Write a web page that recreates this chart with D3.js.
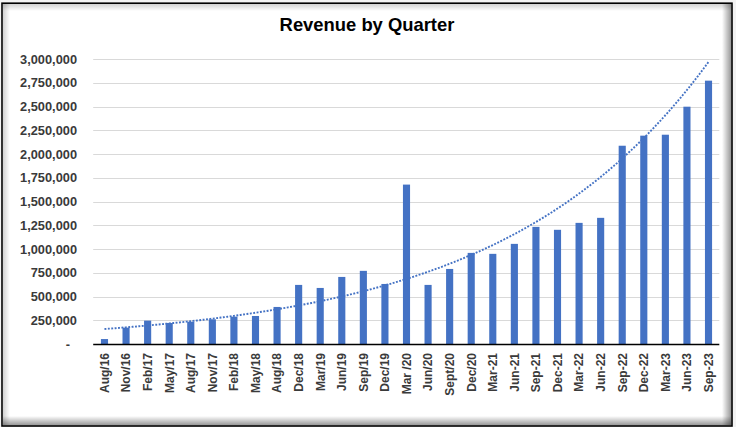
<!DOCTYPE html>
<html><head><meta charset="utf-8">
<script src="https://cdn.jsdelivr.net/npm/d3@7"></script>
<style>body{margin:0;background:#f3f3f3}svg{display:block}</style>
</head><body>
<svg id="c" width="736" height="427"></svg>
<script>
const chartTitle = "Revenue by Quarter";
const categories = ["Aug/16","Nov/16","Feb/17","May/17","Aug/17","Nov/17","Feb/18","May/18","Aug/18","Dec/18","Mar/19","Jun/19","Sep/19","Dec/19","Mar /20","Jun/20","Sept/20","Dec/20","Mar-21","Jun-21","Sep-21","Dec-21","Mar-22","Jun-22","Sep-22","Dec-22","Mar-23","Jun-23","Sep-23"];
const revenue = [52000,172000,246000,221000,235000,260000,288000,295000,390000,622000,590000,706000,770000,632000,1678000,622000,790000,959000,949000,1054000,1233000,1202000,1275000,1328000,2087000,2193000,2203000,2498000,2772000];
const yTicks = [0,250000,500000,750000,1000000,1250000,1500000,1750000,2000000,2250000,2500000,2750000,3000000];

const svg = d3.select("#c");
const W = 736, H = 427;
const blue = "#4472C4";
const font = "'Liberation Sans', Arial, sans-serif";

// frame background
svg.append("rect").attr("x",2).attr("y",3.2).attr("width",730).attr("height",422.8).attr("fill","#fff");

const defs = svg.append("defs");
function grad(id, x1,y1,x2,y2, op){
  const g = defs.append("linearGradient").attr("id",id).attr("x1",x1).attr("y1",y1).attr("x2",x2).attr("y2",y2);
  g.append("stop").attr("offset","0").attr("stop-color","#000").attr("stop-opacity",op);
  g.append("stop").attr("offset","1").attr("stop-color","#000").attr("stop-opacity",0);
}
grad("gL",0,0,1,0,0.18); grad("gT",0,0,0,1,0.18);
grad("gR",1,0,0,0,0.42); grad("gB",0,1,0,0,0.42);
svg.append("rect").attr("x",3).attr("y",4).attr("width",7).attr("height",421).attr("fill","url(#gL)");
svg.append("rect").attr("x",3).attr("y",4).attr("width",728).attr("height",7).attr("fill","url(#gT)");
svg.append("rect").attr("x",722).attr("y",4).attr("width",9.5).attr("height",421).attr("fill","url(#gR)");
svg.append("rect").attr("x",3).attr("y",416).attr("width",728).attr("height",9.5).attr("fill","url(#gB)");
svg.append("rect").attr("x",2).attr("y",3.2).attr("width",730).attr("height",422.8)
  .attr("fill","none").attr("stroke","#000").attr("stroke-width",1.6);

const plot = {left:93.7, right:719.3, top:59, bottom:344};
const x = d3.scaleBand().domain(categories).range([plot.left, plot.right]).paddingInner(0.67).paddingOuter(0.335);
const y = d3.scaleLinear().domain([0,3000000]).range([plot.bottom, plot.top]);

// gridlines
svg.append("g").selectAll("line").data(yTicks.filter(d=>d>0)).join("line")
  .attr("x1",plot.left-0.5).attr("x2",plot.right).attr("y1",d=>Math.round(y(d))+0.5).attr("y2",d=>Math.round(y(d))+0.5)
  .attr("stroke","#d9d9d9").attr("stroke-width",1);

// y axis labels
const yAxis = svg.append("g").attr("transform","translate(77,0)")
  .call(d3.axisLeft(y).tickValues(yTicks).tickSize(0).tickPadding(0).tickFormat(d=> d===0 ? "-" : d3.format(",")(d)));
yAxis.select(".domain").remove();
yAxis.selectAll("text").attr("font-family",font).attr("font-weight","bold").attr("font-size","12.8px").attr("fill","#3a3a3a")
  .attr("x",d=> d===0 ? -7 : 0);

// bars
svg.append("g").selectAll("rect").data(revenue).join("rect")
  .attr("x",(d,i)=>x(categories[i])).attr("width",x.bandwidth())
  .attr("y",d=>y(d)).attr("height",d=>y(0)-y(d)).attr("fill",blue);

// baseline
svg.append("line").attr("x1",plot.left-0.5).attr("x2",plot.right).attr("y1",plot.bottom+0.5).attr("y2",plot.bottom+0.5)
  .attr("stroke","#000").attr("stroke-width",1.3);

// x axis labels
const xAxis = svg.append("g").attr("transform",`translate(0,${plot.bottom})`)
  .call(d3.axisBottom(x).tickSize(0).tickPadding(0));
xAxis.select(".domain").remove();
xAxis.selectAll("text").attr("font-family",font).attr("font-weight","bold").attr("font-size","12px").attr("fill","#3a3a3a")
  .attr("text-anchor","end").attr("x",0).attr("y",0).attr("dy","0.36em")
  .attr("transform","translate(0,9) rotate(-90)");

// exponential trendline (least squares on ln y, as Excel does)
const n = revenue.length;
const xs = d3.range(1,n+1), ls = revenue.map(v=>Math.log(v));
const mx = d3.mean(xs), ml = d3.mean(ls);
const b = d3.sum(xs.map((v,i)=>(v-mx)*(ls[i]-ml))) / d3.sum(xs.map(v=>(v-mx)*(v-mx)));
const a = Math.exp(ml - b*mx);
const xIdx = d3.scaleLinear().domain([1,n]).range([x(categories[0])+x.bandwidth()/2, x(categories[n-1])+x.bandwidth()/2]);
const trendPts = d3.range(1, n+0.001, 0.1).map(t=>[xIdx(t), y(a*Math.exp(b*t))]);
svg.append("path").attr("d", d3.line()(trendPts)).attr("fill","none")
  .attr("stroke",blue).attr("stroke-width",1.9).attr("stroke-dasharray","1.9,1.5");

// title
svg.append("text").attr("x",367).attr("y",31).attr("text-anchor","middle")
  .attr("font-family",font).attr("font-weight","bold").attr("font-size","18.4px").attr("fill","#000")
  .text(chartTitle);
</script>
</body></html>
